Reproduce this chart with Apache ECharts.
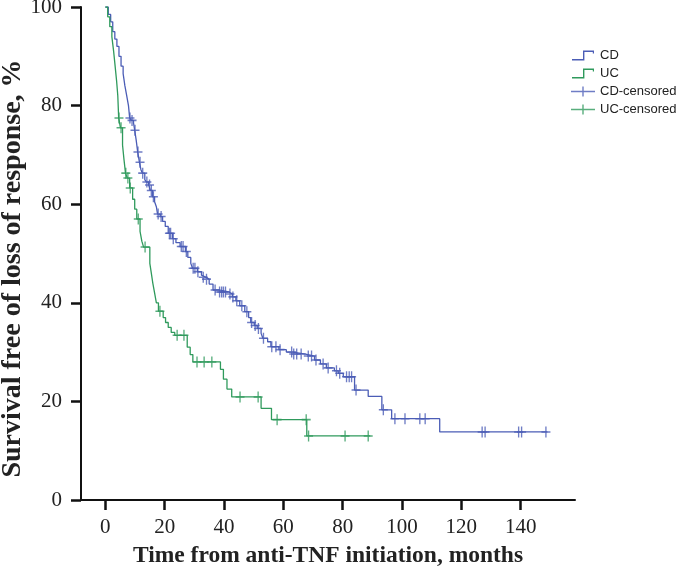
<!DOCTYPE html>
<html>
<head>
<meta charset="utf-8">
<title>Survival free of loss of response</title>
<script src="https://cdn.jsdelivr.net/npm/echarts@6/dist/echarts.min.js"></script>
<style>
  html, body { margin: 0; padding: 0; background: #fff; }
  #chart { width: 681px; height: 577px; }
</style>
</head>
<body>
<div id="chart"></div>
<script>
// x tick labels (months)
const xTicks = [0, 20, 40, 60, 80, 100, 120, 140];

// CD curve: time of each drop (months) and survival after it (%)
const cdTime = [0, 1.0, 1.8, 2.5, 3.2, 3.9, 4.6, 5.3, 6.0, 6.6, 7.2, 7.8, 8.2, 8.8, 9.5, 9.9, 10.4, 10.9, 11.5, 12.0,
  12.5, 13.3, 13.8, 14.6, 15.2, 15.9, 16.6, 17.2, 17.6, 18.5, 19.3, 20.2, 21.2, 22.6, 23.8, 25.2, 27.0, 27.8, 28.8, 29.4,
  31.0, 32.4, 33.0, 33.8, 35.0, 36.3, 38.2, 41.6, 42.8, 44.0, 45.3, 47.0, 48.3, 49.0, 50.2, 51.2, 52.5, 53.1, 54.7, 55.8,
  58.5, 61.0, 63.2, 67.5, 70.5, 72.5, 74.5, 77.2, 78.5, 80.2, 84.0, 88.6, 93.2, 96.5, 112.7, 149.0];
const cdSurv = [100, 98.5, 97, 95, 93.5, 92, 90, 88, 86.5, 84, 82, 80, 77.5, 77, 76.5, 75, 73, 70.6, 68.5, 67,
  66.3, 65, 64.5, 63.9, 62.8, 61.5, 60.5, 59.5, 58, 57.5, 56.5, 55.5, 54.1, 53, 52.2, 51.4, 50.4, 49.2, 48, 47,
  46.3, 45.6, 45.2, 44.8, 43.8, 42.6, 42.2, 41.8, 41.2, 40.4, 39.4, 38.2, 37, 36, 35.4, 34.8, 33.8, 32.8, 32.1, 31.1,
  30.5, 30, 29.6, 29.2, 28.4, 27.6, 26.8, 26.2, 25.7, 25, 22.3, 21, 18.3, 16.5, 13.8, 13.8];
// CD censored times (months)
const cdCensor = [8.3, 9.0, 10.0, 11.0, 11.7, 12.6, 14.0, 14.9, 15.5, 16.2, 17.8, 18.8, 21.6, 22.0, 22.9, 25.6, 26.2,
  27.3, 29.6, 30.2, 31.2, 33.0, 34.1, 37.0, 38.5, 39.2, 39.8, 40.5, 42.0, 43.0, 44.3, 46.0, 47.7, 49.3, 50.5, 51.6,
  53.3, 56.1, 57.5, 58.9, 62.8, 63.5, 64.5, 66.0, 68.4, 69.5, 71.0, 73.4, 75.1, 77.9, 79.0, 81.3, 82.2, 83.0, 84.5,
  93.7, 97.6, 101.0, 106.0, 107.8, 127.0, 128.0, 139.3, 140.3, 148.5];

// UC curve
const ucTime = [0, 0.8, 1.5, 2.2, 2.8, 3.3, 3.8, 4.2, 4.5, 5.1, 5.8, 6.3, 6.8, 7.4, 8.2, 9.2, 9.9, 10.6, 11.7, 12.3,
  12.9, 15.0, 15.5, 16.0, 16.6, 17.2, 17.9, 19.5, 20.3, 21.2, 22.2, 23.4, 27.6, 28.6, 29.5, 38.8, 39.8, 41.0, 42.6,
  52.5, 56.0, 67.9, 89.3];
const ucSurv = [100, 98, 96, 94, 91, 88, 85, 82, 77.5, 75.5, 72, 69, 66.3, 65.3, 63.3, 61, 59, 57, 54.5, 52.5,
  51.3, 48, 46, 44, 42, 40, 38.3, 37, 36, 35, 34, 33.4, 31, 29.5, 28, 26.5, 24.5, 22.5, 20.9,
  18.6, 16.3, 13, 13];
const ucCensor = [4.6, 5.3, 6.9, 7.6, 8.4, 11.1, 13.4, 18.4, 24.2, 26.5, 30.9, 33.3, 35.9, 45.4, 51.5, 57.9, 67.7,
  68.5, 80.8, 88.6];

const cdColor = '#4b5db6';
const ucColor = '#2f9a5c';

// level of the KM step curve at time t
function survAt(times, surv, t) {
    let s = surv[0];
    for (let i = 0; i < times.length; i++) {
        if (times[i] <= t) s = surv[i];
    }
    return s;
}

const plusSymbol = 'path://M4,0H5.4V4.3H9.4V5.7H5.4V10H4V5.7H0V4.3H4Z';
const stepIcon = 'path://M0,8.6H11V0H22V3H20.8V1.4H12.4V10H0Z';
const plusIcon = 'path://M0,4.3H11.3V0H12.7V4.3H24V5.7H12.7V10H11.3V5.7H0Z';

const chart = echarts.init(document.getElementById('chart'));
const serifFont = '"Liberation Serif", "DejaVu Serif", serif';

const option = {
    animation: false,
    grid: { left: 81, right: 106, top: 7, bottom: 77, containLabel: false, outerBoundsMode: 'none' },
    legend: {
        orient: 'vertical',
        left: 566,
        top: 44,
        itemWidth: 24,
        itemHeight: 10,
        itemGap: 5,
        textStyle: { fontFamily: '"Liberation Sans", Arial, sans-serif', fontSize: 13, color: '#222' },
        data: [
            { name: 'CD', icon: stepIcon },
            { name: 'UC', icon: stepIcon },
            { name: 'CD-censored', icon: plusIcon },
            { name: 'UC-censored', icon: plusIcon }
        ]
    },
    xAxis: {
        type: 'value',
        min: -8.2,
        max: 158.3,
        name: 'Time from anti-TNF initiation, months',
        nameLocation: 'middle',
        nameGap: 44,
        nameMoveOverlap: false,
        nameTextStyle: { fontFamily: serifFont, fontWeight: 'bold', fontSize: 23.5, color: '#222' },
        axisLine: { onZero: false, lineStyle: { color: '#111', width: 2 } },
        axisTick: { show: true, length: 10, lineStyle: { color: '#111', width: 2.5 }, customValues: xTicks },
        axisLabel: { fontFamily: serifFont, fontSize: 21, color: '#222', margin: 17, customValues: xTicks },
        splitLine: { show: false }
    },
    yAxis: {
        type: 'value',
        min: 0,
        max: 100,
        interval: 20,
        name: 'Survival free of loss of response, %',
        nameLocation: 'middle',
        nameGap: 54,
        nameMoveOverlap: false,
        nameRotate: 90,
        nameTextStyle: {
            fontFamily: serifFont, fontWeight: 'bold', fontSize: 28, color: '#222',
            padding: [0, 30, 0, 0] // nudge the title a little lower, like the original
        },
        axisLine: { show: true, onZero: false, lineStyle: { color: '#111', width: 2 } },
        axisTick: { show: true, length: 10, lineStyle: { color: '#111', width: 2.5 } },
        axisLabel: { fontFamily: serifFont, fontSize: 21, color: '#222', margin: 19 },
        splitLine: { show: false }
    },
    series: [
        {
            name: 'CD',
            type: 'line',
            step: 'end',
            showSymbol: false,
            data: cdTime.map((t, i) => [t, cdSurv[i]]),
            lineStyle: { color: cdColor, width: 1.3 },
            itemStyle: { color: cdColor }
        },
        {
            name: 'UC',
            type: 'line',
            step: 'end',
            showSymbol: false,
            data: ucTime.map((t, i) => [t, ucSurv[i]]),
            lineStyle: { color: ucColor, width: 1.3 },
            itemStyle: { color: ucColor }
        },
        {
            name: 'CD-censored',
            type: 'scatter',
            symbol: plusSymbol,
            symbolSize: [9, 11],
            data: cdCensor.map(t => [t, survAt(cdTime, cdSurv, t)]),
            itemStyle: { color: cdColor }
        },
        {
            name: 'UC-censored',
            type: 'scatter',
            symbol: plusSymbol,
            symbolSize: [9, 11],
            data: ucCensor.map(t => [t, survAt(ucTime, ucSurv, t)]),
            itemStyle: { color: ucColor }
        }
    ]
};

chart.setOption(option);
</script>
</body>
</html>
